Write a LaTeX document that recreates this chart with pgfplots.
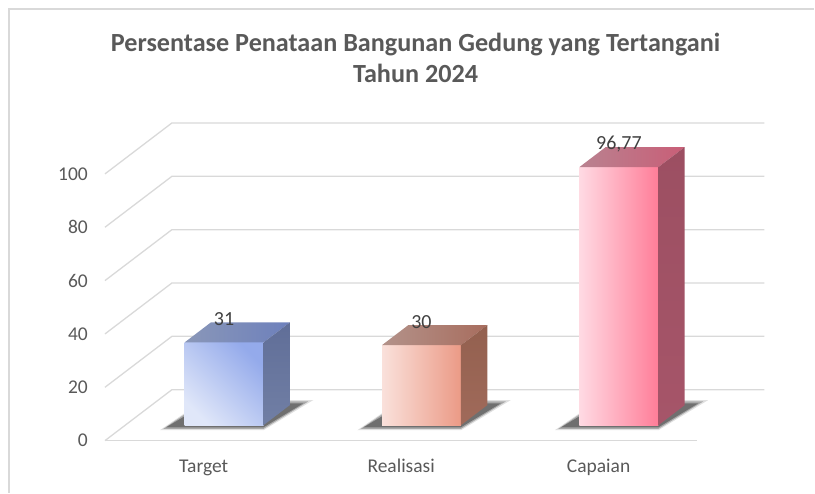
\documentclass[border=0pt]{standalone}
\usepackage{pgfplots}
\pgfplotsset{compat=1.18}
\usepackage{pgfplotstable}
\usepackage{fontspec}
\setmainfont{Carlito}

\definecolor{gridc}{HTML}{D9D9D9}
\definecolor{tickc}{HTML}{595959}
\definecolor{titlec}{HTML}{595959}
\definecolor{labc}{HTML}{404040}
% Target
\definecolor{tFL}{HTML}{E0E7F9}
\definecolor{tFR}{HTML}{94AAEB}
\definecolor{tTL}{HTML}{8A97B8}
\definecolor{tTR}{HTML}{6D80BC}
\definecolor{tSA}{HTML}{717FA5}
\definecolor{tSB}{HTML}{606E98}
% Realisasi
\definecolor{rFL}{HTML}{FAE1DB}
\definecolor{rFR}{HTML}{EB9A86}
\definecolor{rTL}{HTML}{B3928A}
\definecolor{rTR}{HTML}{A86D5E}
\definecolor{rSA}{HTML}{A06A5A}
\definecolor{rSB}{HTML}{93604F}
% Capaian
\definecolor{cFL}{HTML}{FFDAE3}
\definecolor{cFR}{HTML}{FF7D98}
\definecolor{cTL}{HTML}{B98290}
\definecolor{cTR}{HTML}{C95E77}
\definecolor{cSA}{HTML}{A65569}
\definecolor{cSB}{HTML}{9C4F62}

\pgfplotstableread{
idx value label
0 31 31
1 30 30
2 96.77 {96,77}
}\bardata

% #1 idx, #2 value, #3 front light, #4 front dark, #5 top left, #6 top right, #7 side, #8 side dark, #9 front shading angle
\newcommand\threedbar[9]{%
  \pgfmathsetmacro\xl{#1-0.097}%
  \pgfmathsetmacro\xr{#1+0.303}%
  \pgfmathsetmacro\xbl{#1+0.036}%
  \pgfmathsetmacro\xbr{#1+0.436}%
  \pgfmathsetmacro\yt{5.8+#2}%
  \pgfmathsetmacro\ybt{13.3+#2}%
  \pgfmathsetmacro\sa{#1-0.190}%
  \pgfmathsetmacro\sb{#1+0.303}%
  \pgfmathsetmacro\sc{#1+0.505}%
  \pgfmathsetmacro\sd{#1+0.013}%
  \pgfmathsetmacro\saa{#1-0.205}%
  \pgfmathsetmacro\scc{#1+0.530}%
  \pgfmathsetmacro\sdd{#1+0.0}%
  \pgfmathsetmacro\sae{#1-0.222}%
  \pgfmathsetmacro\sce{#1+0.555}%
  \edef\tmp{%
    \noexpand\addplot[draw=none, fill=black, fill opacity=0.12, forget plot] coordinates {(\sae,3.9) (\sb,3.9) (\sce,15.2) (\sdd,15.2)} -- cycle;
    \noexpand\addplot[draw=none, fill=black, fill opacity=0.25, forget plot] coordinates {(\saa,4.4) (\sb,4.4) (\scc,14.7) (\sdd,14.7)} -- cycle;
    \noexpand\addplot[draw=none, fill=black!75, fill opacity=0.55, forget plot] coordinates {(\sa,5.0) (\sb,5.0) (\sc,14.0) (\sd,14.0)} -- cycle;
    \noexpand\addplot[draw=none, top color=#4, bottom color=#3, shading angle=#9, forget plot] coordinates {(\xl,5.8) (\xr,5.8) (\xr,\yt) (\xl,\yt)} -- cycle;
    \noexpand\addplot[draw=none, left color=#5, right color=#6, forget plot] coordinates {(\xl,\yt) (\xr,\yt) (\xbr,\ybt) (\xbl,\ybt)} -- cycle;
    \noexpand\addplot[draw=none, top color=#8, bottom color=#7, forget plot] coordinates {(\xr,5.8) (\xbr,13.3) (\xbr,\ybt) (\xr,\yt)} -- cycle;
  }%
  \tmp
}

\begin{document}
\begin{tikzpicture}
\begin{axis}[
  scale only axis, width=815pt, height=493pt,
  xmin=-1.031, xmax=3.092, ymin=-19.48, ymax=165.17,
  axis line style={draw=none}, major tick length=0pt,
  clip=false,
  ytick={0,20,40,60,80,100},
  /pgf/number format/assume math mode=true,
  yticklabel style={anchor=east, xshift=88pt, inner sep=0pt, text=tickc, font=\fontsize{19.5}{20}\selectfont},
  xtick={0,1,2}, xticklabels={Target,Realisasi,Capaian},
  xticklabel style={anchor=base, yshift=20pt, inner sep=0pt, text=tickc, font=\fontsize{19.5}{20}\selectfont},
]
% border of chart area
\addplot[gridc, line width=1.5pt, forget plot] coordinates {(-0.985,-19.48) (-0.985,161.8) (3.092,161.8)};
% walls
\addplot[gridc, line width=1.3pt, forget plot] coordinates {(-0.5,0) (-0.161,19.1) (2.839,19.1)};
\addplot[gridc, line width=1.3pt, forget plot] coordinates {(-0.5,20) (-0.161,39.1) (2.839,39.1)};
\addplot[gridc, line width=1.3pt, forget plot] coordinates {(-0.5,40) (-0.161,59.1) (2.839,59.1)};
\addplot[gridc, line width=1.3pt, forget plot] coordinates {(-0.5,60) (-0.161,79.1) (2.839,79.1)};
\addplot[gridc, line width=1.3pt, forget plot] coordinates {(-0.5,80) (-0.161,99.1) (2.839,99.1)};
\addplot[gridc, line width=1.3pt, forget plot] coordinates {(-0.5,100) (-0.161,119.1) (2.839,119.1)};
\addplot[gridc, line width=1.3pt, forget plot] coordinates {(-0.5,0) (2.5,0)};
% bars
\threedbar{0}{31}{tFL}{tFR}{tTL}{tTR}{tSA}{tSB}{-45}
\threedbar{1}{30}{rFL}{rFR}{rTL}{rTR}{rSA}{rSB}{-90}
\threedbar{2}{96.77}{cFL}{cFR}{cTL}{cTR}{cSA}{cSB}{-90}
% data labels
\addplot[draw=none, mark=none, nodes near coords, point meta=explicit symbolic,
  every node near coord/.append style={anchor=center, text=labc, font=\fontsize{20}{20}\selectfont, inner sep=0pt}]
  table[x expr=\thisrow{idx}+0.103, y expr=\thisrow{value}+14.4, meta=label] {\bardata};
% title
\node[anchor=base, text=titlec, font=\bfseries\fontsize{26.2}{26}\selectfont] at (axis cs:1.073,146.07) {Persentase Penataan Bangunan Gedung yang Tertangani};
\node[anchor=base, text=titlec, font=\bfseries\fontsize{26.2}{26}\selectfont] at (axis cs:1.073,134.46) {Tahun 2024};
\end{axis}
\end{tikzpicture}
\end{document}
